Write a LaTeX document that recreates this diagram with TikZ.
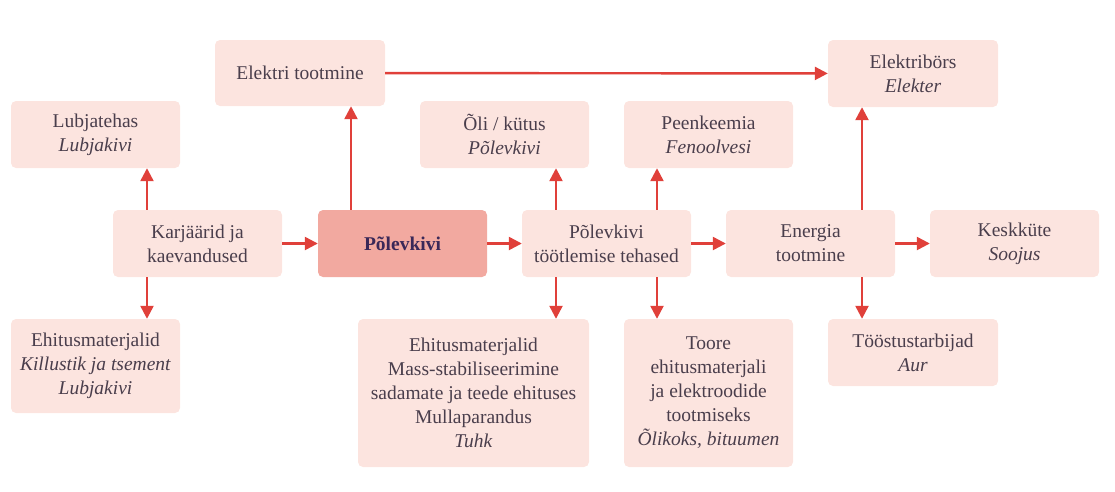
\documentclass[tikz,border=0pt]{standalone}
\usepackage{fontspec}
\setmainfont{Liberation Serif}
\usetikzlibrary{arrows.meta}
\definecolor{boxfill}{HTML}{FCE4DF}
\definecolor{mainfill}{HTML}{F2A9A0}
\definecolor{arrred}{HTML}{E0403A}
\definecolor{txt}{HTML}{4A3E4C}
\definecolor{maintxt}{HTML}{3A2858}
\tikzset{
  box/.style={draw=none, fill=boxfill, rounded corners=5pt, minimum width=169pt, minimum height=67pt,
    align=center, text=txt, font=\fontsize{19.5}{24}\selectfont, inner sep=0pt},
  mainbox/.style={box, fill=mainfill, text=maintxt, font=\fontsize{19.5}{24}\selectfont\bfseries},
  arr/.style={draw=arrred, line width=2.4pt, -{Triangle[length=13pt,width=13pt]}}
}
\begin{document}
\begin{tikzpicture}[x=1pt,y=-1pt]
\useasboundingbox (0,0) rectangle (1115,491);
\node[box, minimum width=170pt, minimum height=66pt] (elek) at (300,73) {Elektri tootmine};
\node[box, minimum width=170pt] (bors) at (913,73.5) {Elektribörs\\\textit{Elekter}};
\node[box] (lub) at (95.5,134.5) {Lubjatehas\\\textit{Lubjakivi}};
\node[box] (oli) at (504.5,134.5) {Õli / kütus\\\textit{Põlevkivi}};
\node[box] (peen) at (708.5,134.5) {Peenkeemia\\\textit{Fenoolvesi}};
\node[box] (karj) at (197.5,243.5) {Karjäärid ja\\kaevandused};
\node[mainbox] (pol) at (402.5,243.5) {Põlevkivi};
\node[box] (teh) at (606.5,243.5) {Põlevkivi\\töötlemise tehased};
\node[box] (ener) at (810.5,243.5) {Energia\\tootmine};
\node[box] (kesk) at (1014.5,243.5) {Keskküte\\\textit{Soojus}};
\node[box, minimum height=94pt] (ehl) at (95.5,366) {Ehitusmaterjalid\\\textit{Killustik ja tsement}\\\textit{Lubjakivi}};
\node[box, minimum width=231pt, minimum height=148pt] (ehm) at (473.5,393) {Ehitusmaterjalid\\Mass-stabiliseerimine\\sadamate ja teede ehituses\\Mullaparandus\\\textit{Tuhk}};
\node[box, minimum height=148pt] (toore) at (708.5,393) {Toore\\ehitusmaterjali\\ja elektroodide\\tootmiseks\\\textit{Õlikoks, bituumen}};
\node[box, minimum width=170pt] (toos) at (913,352.5) {Tööstustarbijad\\\textit{Aur}};
\coordinate (xa) at (147,0);
\coordinate (xb) at (351,0);
\coordinate (xc) at (556,0);
\coordinate (xd) at (657,0);
\coordinate (xe) at (862,0);
\draw[arr] (karj) -- (pol);
\draw[arr] (pol) -- (teh);
\draw[arr] (teh) -- (ener);
\draw[arr] (ener) -- (kesk);
\draw[arr] (elek) -- (bors);
\draw[arr] (karj.north -| xa) -- (lub.south -| xa);
\draw[arr] (karj.south -| xa) -- (ehl.north -| xa);
\draw[arr] (pol.north -| xb) -- (elek.south -| xb);
\draw[arr] (teh.north -| xc) -- (oli.south -| xc);
\draw[arr] (teh.north -| xd) -- (peen.south -| xd);
\draw[arr] (teh.south -| xc) -- (ehm.north -| xc);
\draw[arr] (teh.south -| xd) -- (toore.north -| xd);
\draw[arr] (ener.north -| xe) -- (bors.south -| xe);
\draw[arr] (ener.south -| xe) -- (toos.north -| xe);
\end{tikzpicture}
\end{document}
